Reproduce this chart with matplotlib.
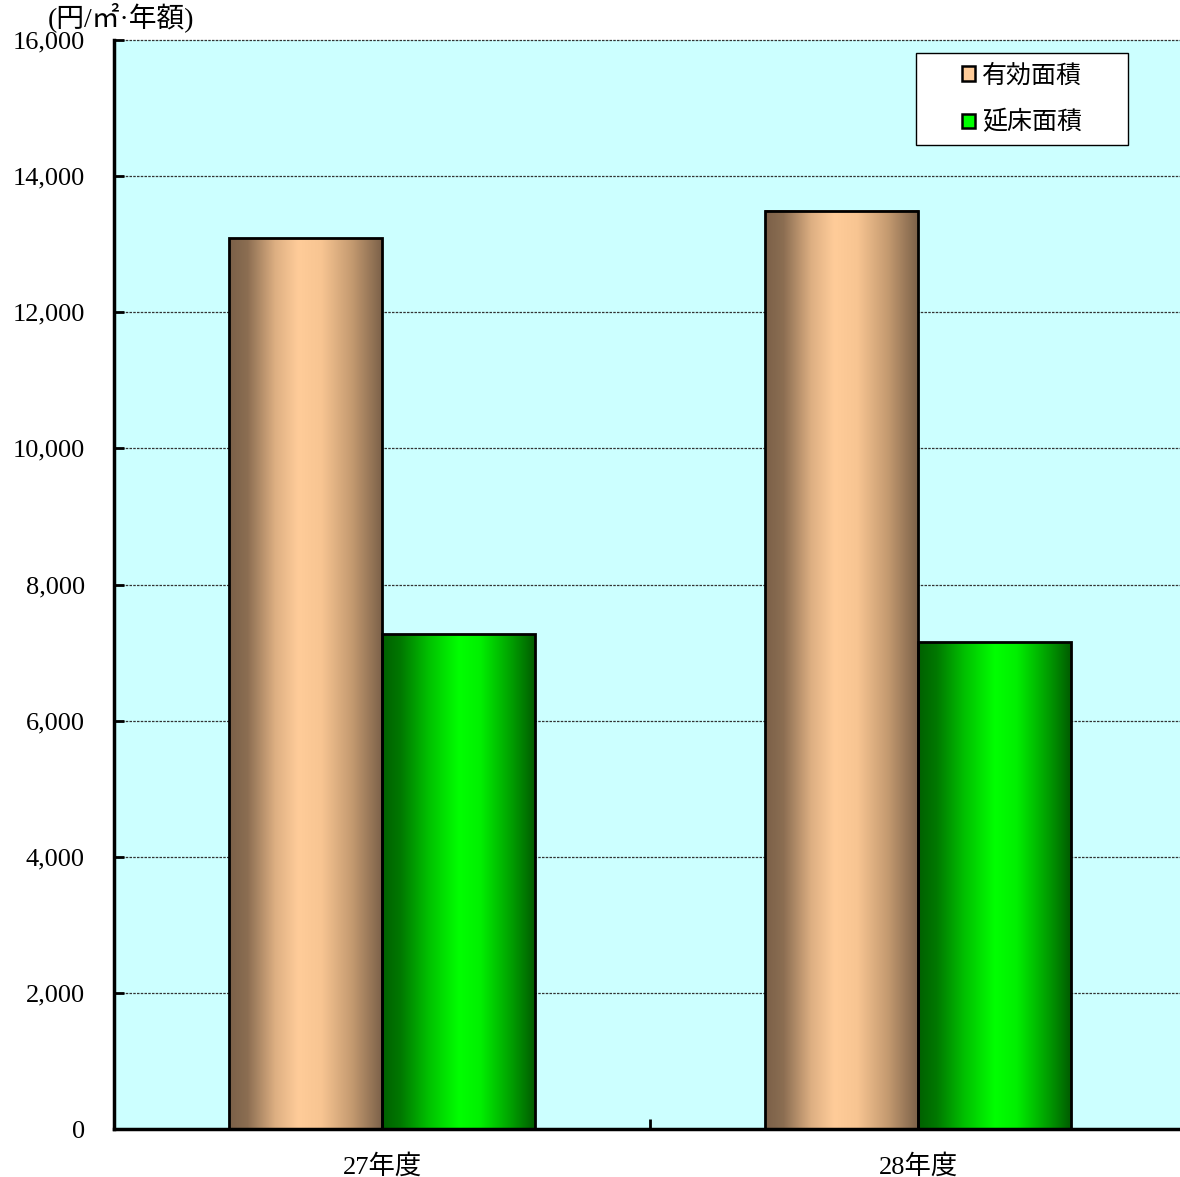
import matplotlib
matplotlib.use("Agg")
import matplotlib.pyplot as plt
import numpy as np
from matplotlib.colors import LinearSegmentedColormap
from matplotlib.patches import Patch, Rectangle
from matplotlib.ticker import FixedLocator

categories = ["27年度", "28年度"]
series_names = ["有効面積", "延床面積"]
yuko = [13090, 13490]
nobe = [7270, 7150]
yticks = [0, 2000, 4000, 6000, 8000, 10000, 12000, 14000, 16000]
ytick_labels = ["0", "2,000", "4,000", "6,000", "8,000", "10,000", "12,000", "14,000", "16,000"]
unit_label = "(円/㎡·年額)"

serif_fam = ["Liberation Serif", "Noto Sans CJK JP"]
plt.rcParams["font.family"] = ["Noto Sans CJK JP", "DejaVu Sans"]

fig = plt.figure(figsize=(11.8, 11.77), dpi=100)
ax = fig.add_axes([114/1180, 1 - 1129/1177, 1072/1180, 1089/1177])
ax.set_facecolor("#CCFFFF")

peach_cmap = LinearSegmentedColormap.from_list(
    "peach", [(0.0, "#7A6048"), (0.12, "#8C6E52"), (0.3, "#DDAF82"), (0.45, "#FFCC99"),
              (0.6, "#F8C592"), (0.8, "#C49A70"), (1.0, "#7A6048")])
green_cmap = LinearSegmentedColormap.from_list(
    "green", [(0.0, "#006000"), (0.12, "#007800"), (0.3, "#00C000"), (0.5, "#00FF00"),
              (0.64, "#00F000"), (0.84, "#00A000"), (1.0, "#005A00")])

x = np.arange(len(categories))
w = 1 / 3.5
bars1 = ax.bar(x - w/2, yuko, width=w, facecolor="none", edgecolor="black", linewidth=2, zorder=4)
bars2 = ax.bar(x + w/2, nobe, width=w, facecolor="none", edgecolor="black", linewidth=2, zorder=4)

grad = np.linspace(0, 1, 256).reshape(1, -1)
for bars, cmap in ((bars1, peach_cmap), (bars2, green_cmap)):
    for b in bars:
        x0 = b.get_x()
        ax.imshow(grad, extent=[x0, x0 + b.get_width(), 0, b.get_height()],
                  aspect="auto", cmap=cmap, zorder=3, interpolation="bilinear")

ax.set_xlim(-0.5, 1.5)
ax.set_ylim(0, 16000)

ax.set_yticks(yticks)
ax.set_yticklabels(ytick_labels, family=serif_fam, fontsize=19)
ax.tick_params(axis="y", direction="in", length=7, width=2, pad=21)
ax.set_xticks(x)
ax.set_xticklabels(categories, family=serif_fam, fontsize=19)
ax.tick_params(axis="x", which="major", length=0, pad=18)
ax.xaxis.set_minor_locator(FixedLocator([0.5]))
ax.tick_params(axis="x", which="minor", direction="in", length=7, width=2)

ax.yaxis.grid(True, linestyle=(0, (2, 1)), color="#333333", linewidth=0.9, zorder=1)
ax.set_axisbelow(True)
for gl in ax.get_ygridlines():
    gl.set_clip_on(False)

for s in ("top", "right"):
    ax.spines[s].set_visible(False)
for s in ("left", "bottom"):
    ax.spines[s].set_linewidth(2.5)
    ax.spines[s].set_zorder(5)

fig.text(48/1180, 1 - 17/1177, unit_label, family=serif_fam, fontsize=20, ha="left", va="center")

# legend box
bx0, by0, bw, bh = 916/1180, 1 - 145/1177, 212/1180, 92/1177
fig.patches.append(Rectangle((bx0, by0), bw, bh, transform=fig.transFigure,
                             facecolor="white", edgecolor="black", linewidth=1, zorder=6))
handles = [Patch(facecolor="#FFCC99", edgecolor="black", linewidth=1.8),
           Patch(facecolor="#00FF00", edgecolor="black", linewidth=1.8)]
leg = fig.legend(handles, series_names, loc="center",
                 bbox_to_anchor=(bx0 + bw/2, by0 + bh/2), bbox_transform=fig.transFigure,
                 fontsize=18, handlelength=0.5, handleheight=0.5, handletextpad=0.3,
                 labelspacing=0.85, borderpad=0.2, borderaxespad=0, frameon=False)
leg.set_zorder(7)

fig.savefig("out.png", dpi=100)
